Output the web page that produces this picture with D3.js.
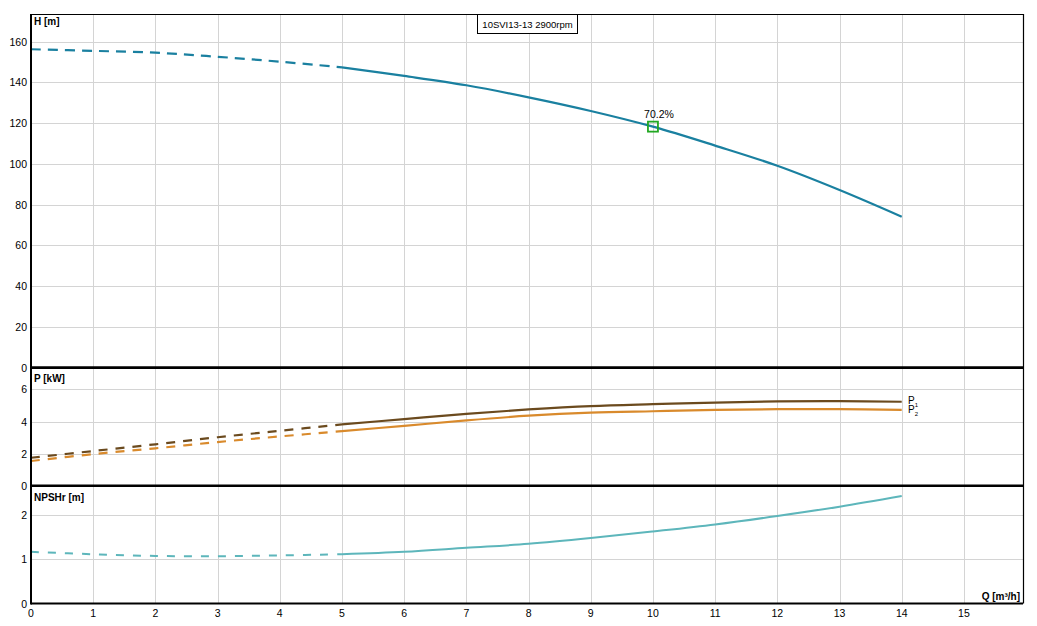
<!DOCTYPE html>
<html><head><meta charset="utf-8">
<script src="https://cdn.jsdelivr.net/npm/d3@7"></script>
<style>
body{margin:0;background:#fff;}
text{font-family:"Liberation Sans",Arial,sans-serif;}
</style></head>
<body><svg id="c" width="1037" height="626"></svg>
<script>
const Q      = [0,1,2,3,4,5,6,7,8,9,10,11,12,13,14];
const H      = [156.3,155.5,154.6,152.6,150.2,147.4,143.2,138.6,132.7,126.0,118.3,109.0,99.1,87.2,74.1];
const P1     = [1.74,2.16,2.58,3.02,3.42,3.82,4.15,4.48,4.75,4.96,5.08,5.18,5.25,5.27,5.23];
const P2     = [1.54,1.97,2.33,2.72,3.07,3.40,3.73,4.07,4.36,4.55,4.64,4.72,4.77,4.77,4.73];
const NPSH   = [1.17,1.115,1.077,1.07,1.09,1.115,1.17,1.26,1.35,1.48,1.63,1.79,1.98,2.19,2.43];
const qTicks = [0,1,2,3,4,5,6,7,8,9,10,11,12,13,14,15];
const hTicks = [0,20,40,60,80,100,120,140,160];
const pTicks = [0,2,4,6];
const nTicks = [0,1,2];
const dashEnd = 5;
const effPoint = {q:10, h:118.3, label:"70.2%"};
const title = "10SVI13-13 2900rpm";

const svg = d3.select("#c");
const L=31, R=1023, T=14, S1=367.6, S2=485.7, B=603.6;
const x = d3.scaleLinear().domain([0,15.95]).range([L,R]);
const yH = d3.scaleLinear().domain([0,160]).range([S1,41.7]);
const yP = d3.scaleLinear().domain([0,6]).range([S2,389.4]);
const yN = d3.scaleLinear().domain([0,2]).range([B,515.1]);

const grid = svg.append("g").attr("stroke","#d4d4d4").attr("stroke-width",1);
qTicks.filter(d=>d>0).forEach(d=>{
  grid.append("line").attr("x1",Math.round(x(d))+0.5).attr("x2",Math.round(x(d))+0.5).attr("y1",T).attr("y2",B);
});
function hgrid(scale,ticks){
  ticks.filter(d=>d>0).forEach(d=>{
    grid.append("line").attr("x1",L).attr("x2",R).attr("y1",Math.round(scale(d))+0.5).attr("y2",Math.round(scale(d))+0.5);
  });
}
hgrid(yH,hTicks); hgrid(yP,pTicks); hgrid(yN,nTicks);

// tick labels
const tl = svg.append("g").attr("font-size",10.5).attr("fill","#000");
function ylabels(scale,ticks){
  ticks.forEach(d=>{
    tl.append("text").attr("x",27).attr("y",scale(d)+4).attr("text-anchor","end").text(d);
  });
}
ylabels(yH,hTicks); ylabels(yP,pTicks); ylabels(yN,nTicks);
qTicks.forEach(d=>{
  tl.append("text").attr("x",x(d)).attr("y",617).attr("text-anchor","middle").text(d);
});

// curves
function drawCurve(vals,scale,color,width,dash){
  const pts = Q.map((q,i)=>[q,vals[i]]);
  const line = d3.line().x(d=>x(d[0])).y(d=>scale(d[1])).curve(d3.curveCatmullRom.alpha(0.5));
  svg.append("path").attr("d",line(pts.filter(d=>d[0]<=dashEnd))).attr("fill","none")
    .attr("stroke",color).attr("stroke-width",width).attr("stroke-dasharray",dash);
  svg.append("path").attr("d",line(pts.filter(d=>d[0]>=dashEnd))).attr("fill","none")
    .attr("stroke",color).attr("stroke-width",width);
}
drawCurve(H,yH,"#1a80a0",2.2,"10,7");
drawCurve(P1,yP,"#6b4a1e",2.2,"9,8");
drawCurve(P2,yP,"#d98a2c",2.2,"9,8");
drawCurve(NPSH,yN,"#5db6bb",2,"8,9");

// efficiency point
svg.append("rect").attr("x",x(effPoint.q)-5).attr("y",yH(effPoint.h)-5).attr("width",10).attr("height",10)
  .attr("fill","none").attr("stroke","#22a822").attr("stroke-width",1.8);
svg.append("text").attr("x",x(effPoint.q)+6).attr("y",yH(effPoint.h)-9).attr("text-anchor","middle")
  .attr("font-size",10.5).text(effPoint.label);

// P labels
const pl = svg.append("g").attr("font-size",10);
const p1t = pl.append("text").attr("x",908).attr("y",yP(P1[14])+2);
p1t.append("tspan").text("P");
p1t.append("tspan").attr("font-size",6).attr("dy",3).text("1");
const p2t = pl.append("text").attr("x",908).attr("y",yP(P2[14])+3);
p2t.append("tspan").text("P");
p2t.append("tspan").attr("font-size",6).attr("dy",3).text("2");

// frame
const fr = svg.append("g").attr("stroke","#000");
fr.append("line").attr("x1",L).attr("x2",R).attr("y1",T+0.5).attr("y2",T+0.5).attr("stroke-width",1);
fr.append("line").attr("x1",R+0.5).attr("x2",R+0.5).attr("y1",T).attr("y2",B).attr("stroke-width",1.2);
fr.append("line").attr("x1",L).attr("x2",L).attr("y1",T).attr("y2",B+1).attr("stroke-width",2);
fr.append("line").attr("x1",L).attr("x2",R).attr("y1",B).attr("y2",B).attr("stroke-width",2);
fr.append("line").attr("x1",L).attr("x2",R+1).attr("y1",S1).attr("y2",S1).attr("stroke-width",2.6);
fr.append("line").attr("x1",L).attr("x2",R+1).attr("y1",S2).attr("y2",S2).attr("stroke-width",2.6);

// axis titles
const at = svg.append("g").attr("font-size",10).attr("font-weight","bold");
at.append("text").attr("x",34).attr("y",25).text("H [m]");
at.append("text").attr("x",34).attr("y",S1+14).text("P [kW]");
at.append("text").attr("x",34).attr("y",S2+15).text("NPSHr [m]");
at.append("text").attr("x",1020).attr("y",600).attr("text-anchor","end").text("Q [m³/h]");

// title box
svg.append("rect").attr("x",477.5).attr("y",14.5).attr("width",100).attr("height",19)
  .attr("fill","#fff").attr("stroke","#000").attr("stroke-width",1);
svg.append("text").attr("x",527.5).attr("y",28).attr("text-anchor","middle").attr("font-size",9.5).text(title);
</script></body></html>
